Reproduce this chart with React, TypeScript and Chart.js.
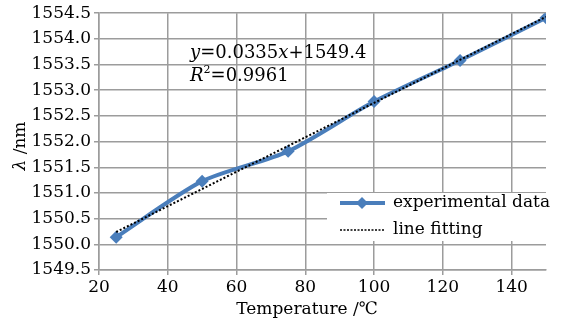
import React, { useEffect, useRef } from "react";
import { Chart, registerables } from "chart.js";

Chart.register(...registerables);

const temperatures = [25, 50, 75, 100, 125, 150];
const wavelengths = [1550.14, 1551.23, 1551.81, 1552.78, 1553.58, 1554.41];
const fitTemperatures = [25, 150];
const fitWavelengths = [1550.24, 1554.43];
const xTickValues = [20, 40, 60, 80, 100, 120, 140];
const seriesNames = ["experimental data", "line fitting"];
const equationText = ["y", "=0.0335", "x", "+1549.4"];
const r2Text = ["R", "2", "=0.9961"];
const xTitle = "Temperature /℃";

const BLUE = "#4a7ebb";
const FONT = "'DejaVu Serif', serif";
const TEXT = "#000";

const overlayPlugin = {
  id: "overlay",
  afterDraw(chart: any) {
    const ctx = chart.ctx as CanvasRenderingContext2D;
    ctx.save();
    // y axis title
    ctx.save();
    ctx.translate(21, 146);
    ctx.rotate(-Math.PI / 2);
    ctx.fillStyle = TEXT;
    ctx.textBaseline = "middle";
    ctx.font = `italic 17px ${FONT}`;
    const lw = ctx.measureText("λ").width;
    ctx.font = `17px ${FONT}`;
    const rw = ctx.measureText(" /nm").width;
    const sx = -(lw + rw) / 2;
    ctx.font = `italic 17px ${FONT}`;
    ctx.fillText("λ", sx, 0);
    ctx.font = `17px ${FONT}`;
    ctx.fillText(" /nm", sx + lw, 0);
    ctx.restore();

    // x axis title
    ctx.fillStyle = TEXT;
    ctx.font = `17px ${FONT}`;
    ctx.textAlign = "center";
    ctx.textBaseline = "middle";
    ctx.fillText(xTitle, 307, 310);
    ctx.textAlign = "left";

    // equation
    ctx.textBaseline = "alphabetic";
    let x = 190;
    equationText.forEach((t, i) => {
      ctx.font = (i % 2 === 0 ? "italic " : "") + `18px ${FONT}`;
      ctx.fillText(t, x, 58);
      x += ctx.measureText(t).width;
    });
    x = 190;
    ctx.font = `italic 18px ${FONT}`;
    ctx.fillText(r2Text[0], x, 81);
    x += ctx.measureText(r2Text[0]).width;
    ctx.font = `11px ${FONT}`;
    ctx.fillText(r2Text[1], x, 73);
    x += ctx.measureText(r2Text[1]).width;
    ctx.font = `18px ${FONT}`;
    ctx.fillText(r2Text[2], x, 81);

    // legend
    ctx.fillStyle = "#fff";
    ctx.fillRect(327, 193, 247, 48);
    ctx.strokeStyle = BLUE;
    ctx.lineWidth = 4;
    ctx.beginPath();
    ctx.moveTo(340, 203);
    ctx.lineTo(385, 203);
    ctx.stroke();
    ctx.fillStyle = BLUE;
    ctx.beginPath();
    ctx.moveTo(362, 197);
    ctx.lineTo(368, 203);
    ctx.lineTo(362, 209);
    ctx.lineTo(356, 203);
    ctx.closePath();
    ctx.fill();
    ctx.strokeStyle = "#000";
    ctx.lineWidth = 1.5;
    ctx.setLineDash([2, 1.5]);
    ctx.beginPath();
    ctx.moveTo(340, 230);
    ctx.lineTo(385, 230);
    ctx.stroke();
    ctx.setLineDash([]);
    ctx.fillStyle = TEXT;
    ctx.font = `17px ${FONT}`;
    ctx.textBaseline = "middle";
    ctx.fillText(seriesNames[0], 393, 203);
    ctx.fillText(seriesNames[1], 393, 230);
    ctx.restore();
  },
};

export default function App() {
  const ref = useRef<HTMLCanvasElement>(null);
  useEffect(() => {
    document.body.style.margin = "0";
    const chart = new Chart(ref.current!, {
      type: "line",
      data: {
        datasets: [
          {
            label: seriesNames[0],
            data: temperatures.map((t, i) => ({ x: t, y: wavelengths[i] })),
            borderColor: BLUE,
            backgroundColor: BLUE,
            borderWidth: 4,
            pointStyle: "rectRot",
            pointRadius: 6.5,
            pointBorderWidth: 0,
            tension: 0.25,
            order: 2,
          },
          {
            label: seriesNames[1],
            data: fitTemperatures.map((t, i) => ({ x: t, y: fitWavelengths[i] })),
            borderColor: "#000",
            borderWidth: 2,
            borderDash: [2, 2],
            pointRadius: 0,
            order: 1,
          },
        ],
      },
      options: {
        animation: false,
        responsive: true,
        maintainAspectRatio: false,
        layout: { padding: { top: 11, right: 28, left: 0, bottom: 0 } },
        plugins: { legend: { display: false }, tooltip: { enabled: false } },
        scales: {
          x: {
            type: "linear",
            min: 20,
            max: 150,
            afterBuildTicks: (s: any) => {
              s.ticks = xTickValues.map((v) => ({ value: v }));
            },
            afterFit: (s: any) => {
              s.height = 59;
            },
            ticks: {
              color: TEXT,
              font: { family: FONT, size: 17 },
              padding: 2,
              maxRotation: 0,
            },
            grid: { color: "#9c9c9c", lineWidth: 1.5, tickLength: 5 },
            border: { color: "#9c9c9c", width: 1.5 },
          },
          y: {
            min: 1549.5,
            max: 1554.5,
            afterFit: (s: any) => {
              s.width = 99;
            },
            ticks: {
              stepSize: 0.5,
              color: TEXT,
              font: { family: FONT, size: 17 },
              padding: 3,
              callback: (v: any) => Number(v).toFixed(1),
            },
            grid: { color: "#9c9c9c", lineWidth: 1.5, tickLength: 5 },
            border: { color: "#9c9c9c", width: 1.5 },
          },
        },
      },
      plugins: [overlayPlugin],
    });
    return () => chart.destroy();
  }, []);
  return (
    <div style={{ position: "relative", width: 574, height: 329 }}>
      <canvas ref={ref} />
    </div>
  );
}
